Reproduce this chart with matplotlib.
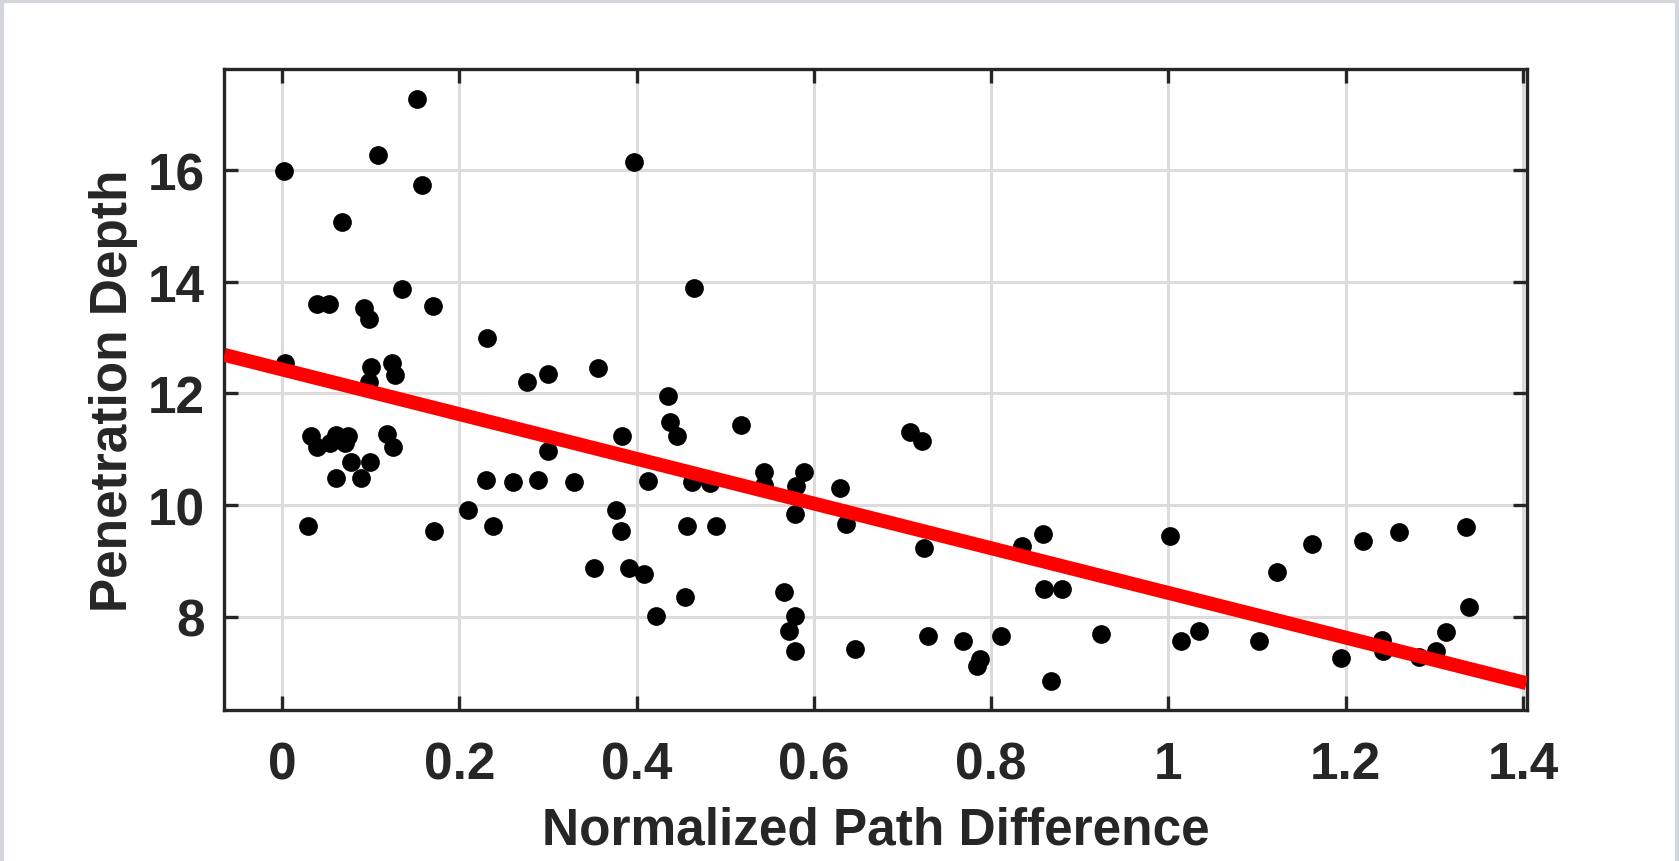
import matplotlib
matplotlib.use("Agg")
import matplotlib.pyplot as plt
from matplotlib.lines import Line2D

# scatter data
path_diff = [
    0.152, 0.108, 0.002, 0.158, 0.068, 0.136, 0.039, 0.053, 0.093, 0.098,
    0.170, 0.231, 0.004, 0.100, 0.124, 0.127, 0.098, 0.276, 0.300, 0.033,
    0.040, 0.054, 0.061, 0.075, 0.071, 0.119, 0.125, 0.078, 0.099, 0.061,
    0.089, 0.029, 0.172, 0.210, 0.238, 0.230, 0.261, 0.289, 0.300, 0.435,
    0.384, 0.438, 0.446, 0.518, 0.329, 0.413, 0.463, 0.483, 0.544, 0.544,
    0.589, 0.580, 0.630, 0.377, 0.383, 0.457, 0.490, 0.579, 0.636, 0.352,
    0.391, 0.408, 0.455, 0.422, 0.566, 0.579, 0.572, 0.579, 0.647, 0.397,
    0.465, 0.356, 0.709, 0.722, 0.724, 0.835, 0.859, 1.002, 0.860, 0.880,
    0.729, 0.768, 0.787, 0.784, 0.811, 0.867, 0.924, 1.014, 1.035, 1.102,
    1.122, 1.162, 1.220, 1.260, 1.336, 1.339, 1.195, 1.241, 1.242, 1.283,
    1.302, 1.313,
]
pen_depth = [
    17.28, 16.27, 15.98, 15.74, 15.07, 13.87, 13.61, 13.61, 13.53, 13.34,
    13.56, 12.99, 12.54, 12.47, 12.54, 12.33, 12.21, 12.21, 12.35, 11.23,
    11.04, 11.12, 11.25, 11.23, 11.12, 11.27, 11.04, 10.78, 10.78, 10.48,
    10.48, 9.63, 9.54, 9.92, 9.63, 10.45, 10.42, 10.45, 10.97, 11.95,
    11.24, 11.48, 11.23, 11.44, 10.42, 10.44, 10.42, 10.40, 10.60, 10.36,
    10.60, 10.34, 10.31, 9.92, 9.54, 9.63, 9.63, 9.84, 9.66, 8.88,
    8.88, 8.77, 8.35, 8.02, 8.44, 8.02, 7.74, 7.38, 7.42, 16.15,
    13.89, 12.45, 11.31, 11.14, 9.24, 9.27, 9.48, 9.44, 8.49, 8.49,
    7.65, 7.57, 7.24, 7.12, 7.66, 6.85, 7.69, 7.57, 7.75, 7.57,
    8.80, 9.31, 9.35, 9.52, 9.60, 8.18, 7.27, 7.58, 7.39, 7.28,
    7.39, 7.72,
]

# linear fit line (ends at the axis limits)
fit_x = [-0.065, 1.404]
fit_y = [12.69, 6.81]

x_ticks = [0, 0.2, 0.4, 0.6, 0.8, 1, 1.2, 1.4]
x_tick_labels = ["0", "0.2", "0.4", "0.6", "0.8", "1", "1.2", "1.4"]
y_ticks = [8, 10, 12, 14, 16]

plt.rcParams['font.family'] = ['Liberation Sans', 'DejaVu Sans']
plt.rcParams['font.weight'] = 'bold'
txt_col = '#262626'
fs = 37

fig = plt.figure(figsize=(16.79, 8.62), dpi=100)
ax = fig.add_axes([0.1336, 0.1755, 0.9092 - 0.1336, 0.9188 - 0.1755])

ax.grid(True, color='#dcdcdc', linewidth=2.2, zorder=0)
ax.set_axisbelow(True)

ax.plot(path_diff, pen_depth, 'o', color='black', markersize=13.5,
        markeredgewidth=0, zorder=3)
ax.plot(fit_x, fit_y, '-', color='#ff0000', linewidth=10,
        solid_capstyle='butt', zorder=4)

ax.set_xlim(-0.065, 1.404)
ax.set_ylim(6.335, 17.81)
ax.set_xticks(x_ticks)
ax.set_xticklabels(x_tick_labels)
ax.set_yticks(y_ticks)

for s in ax.spines.values():
    s.set_color(txt_col)
    s.set_linewidth(2.4)

ax.tick_params(direction='in', length=10, width=2.4, color=txt_col,
               top=True, right=True, labelsize=fs, labelcolor=txt_col)
ax.tick_params(axis='x', pad=22)
ax.tick_params(axis='y', pad=14)

ax.set_xlabel("Normalized Path Difference", fontsize=fs, fontweight='bold',
              color=txt_col, labelpad=12)
ax.set_ylabel("Penetration Depth", fontsize=fs, fontweight='bold',
              color=txt_col, labelpad=7)

# light screenshot frame around the figure
fcol = '#d3d7db'
fig.add_artist(Line2D([0, 1], [0.998, 0.998], transform=fig.transFigure, color=fcol, linewidth=3))
fig.add_artist(Line2D([0.001, 0.001], [0, 1], transform=fig.transFigure, color=fcol, linewidth=3))
fig.add_artist(Line2D([0.999, 0.999], [0, 1], transform=fig.transFigure, color=fcol, linewidth=3))

fig.savefig("out.png", dpi=100)
